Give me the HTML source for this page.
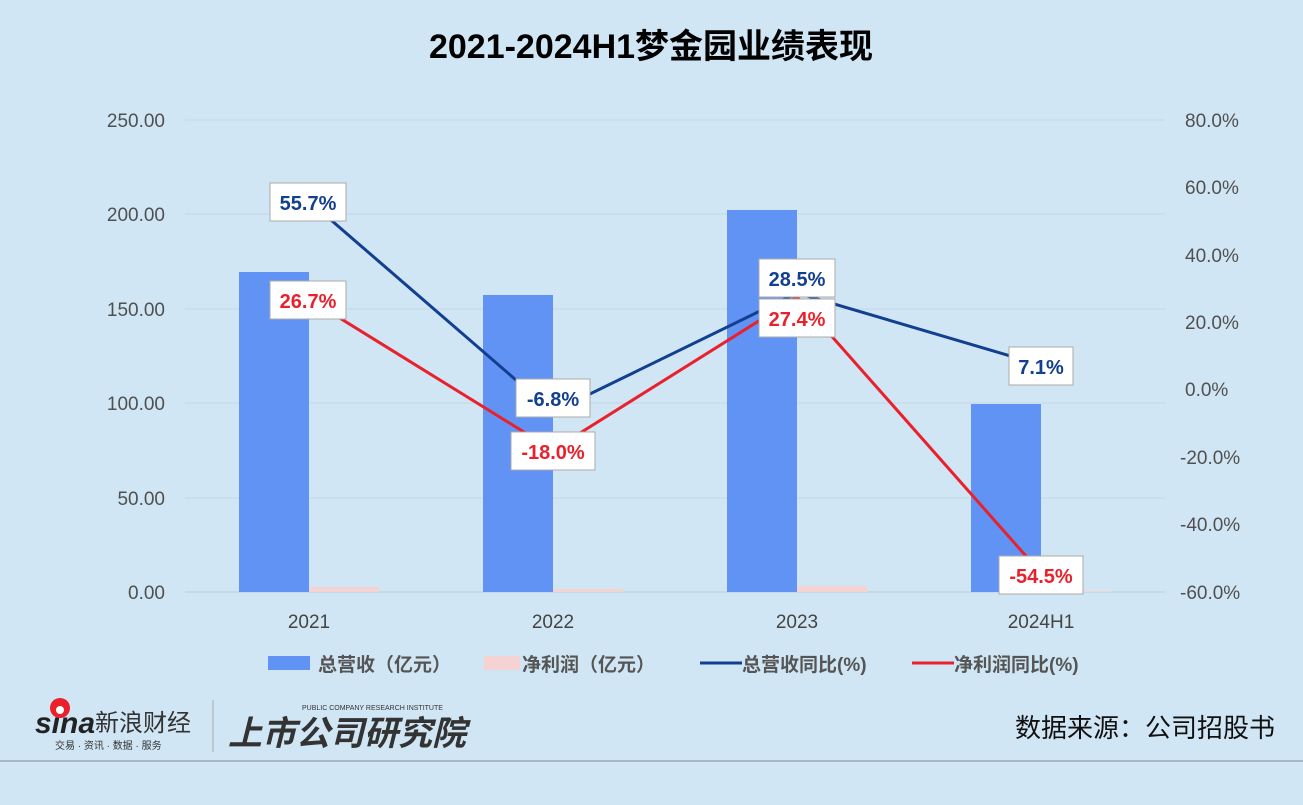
<!DOCTYPE html><html><head><meta charset="utf-8"><style>
body{margin:0;width:1303px;height:800px;background:#d1e6f4;overflow:hidden;font-family:"Liberation Sans","Noto Sans CJK SC",sans-serif}
</style></head><body>
<svg width="1303" height="800" xmlns="http://www.w3.org/2000/svg" font-family="Liberation Sans, Noto Sans CJK SC, sans-serif">
<rect width="1303" height="800" fill="#d1e6f4"/>
<text x="651" y="58" text-anchor="middle" font-size="34" font-weight="bold" fill="#000">2021-2024H1梦金园业绩表现</text>
<g stroke="#c4d6e3" stroke-width="1">
<line x1="185" y1="120" x2="1165" y2="120"/><line x1="185" y1="214" x2="1165" y2="214"/><line x1="185" y1="309" x2="1165" y2="309"/><line x1="185" y1="403" x2="1165" y2="403"/><line x1="185" y1="498" x2="1165" y2="498"/>
</g>
<line x1="185" y1="592" x2="1165" y2="592" stroke="#bfcbd4"/>
<g font-size="19" fill="#505050" text-anchor="end">
<text x="165" y="127">250.00</text><text x="165" y="221">200.00</text><text x="165" y="316">150.00</text><text x="165" y="410">100.00</text><text x="165" y="505">50.00</text><text x="165" y="599">0.00</text>
</g>
<g font-size="19" fill="#505050" text-anchor="start">
<text x="1185" y="127">80.0%</text><text x="1185" y="194">60.0%</text><text x="1185" y="262">40.0%</text><text x="1185" y="329">20.0%</text><text x="1185" y="396">0.0%</text><text x="1180" y="464">-20.0%</text><text x="1180" y="531">-40.0%</text><text x="1180" y="599">-60.0%</text>
</g>
<g fill="#6193f5">
<rect x="239" y="272" width="70" height="320"/><rect x="483" y="295" width="70" height="297"/><rect x="727" y="210" width="70" height="382"/><rect x="971" y="404" width="70" height="188"/>
</g>
<g fill="#f6d3d3">
<rect x="309" y="587" width="70" height="5"/><rect x="553" y="589" width="70" height="3"/><rect x="797" y="586" width="70" height="6"/><rect x="1041" y="591" width="70" height="1"/>
</g>
<g font-size="19" fill="#444" text-anchor="middle">
<text x="309" y="628">2021</text><text x="553" y="628">2022</text><text x="797" y="628">2023</text><text x="1041" y="628">2024H1</text>
</g>
<polyline points="309,201 553,412 797,293 1041,365" fill="none" stroke="#123f8f" stroke-width="3"/>
<polyline points="309,299 553,450 797,297 1041,573" fill="none" stroke="#e8212d" stroke-width="3"/>
<g font-size="20" font-weight="bold" text-anchor="middle">
<rect x="270" y="183" width="76" height="38" fill="#fff" stroke="#aaa"/><text x="308" y="210" fill="#123f8f">55.7%</text>
<rect x="270" y="281" width="76" height="38" fill="#fff" stroke="#aaa"/><text x="308" y="308" fill="#e8212d">26.7%</text>
<rect x="516" y="379" width="74" height="38" fill="#fff" stroke="#aaa"/><text x="553" y="406" fill="#123f8f">-6.8%</text>
<rect x="511" y="432" width="84" height="38" fill="#fff" stroke="#aaa"/><text x="553" y="459" fill="#e8212d">-18.0%</text>
<rect x="759" y="259" width="76" height="38" fill="#fff" stroke="#aaa"/><text x="797" y="286" fill="#123f8f">28.5%</text>
<rect x="759" y="299" width="76" height="38" fill="#fff" stroke="#aaa"/><text x="797" y="326" fill="#e8212d">27.4%</text>
<rect x="1009" y="347" width="64" height="38" fill="#fff" stroke="#aaa"/><text x="1041" y="374" fill="#123f8f">7.1%</text>
<rect x="999" y="556" width="84" height="38" fill="#fff" stroke="#aaa"/><text x="1041" y="583" fill="#e8212d">-54.5%</text>
</g>
<g font-size="19" font-weight="bold" fill="#555">
<rect x="268" y="656" width="42" height="14" fill="#6193f5"/><text x="318" y="671">总营收（亿元）</text>
<rect x="484" y="656" width="36" height="14" fill="#f6d3d3"/><text x="522" y="671">净利润（亿元）</text>
<line x1="700" y1="663" x2="742" y2="663" stroke="#123f8f" stroke-width="3"/><text x="742" y="671">总营收同比(%)</text>
<line x1="912" y1="663" x2="954" y2="663" stroke="#e8212d" stroke-width="3"/><text x="954" y="671">净利润同比(%)</text>
</g>
<text x="35" y="733" font-size="30" font-weight="bold" font-style="italic" fill="#222">sina</text>
<circle cx="60" cy="708" r="10" fill="#e8212d"/><circle cx="60" cy="710" r="4" fill="#fff"/>
<text x="95" y="731" font-size="24" fill="#333">新浪财经</text>
<text x="55" y="749" font-size="10" fill="#333">交易 · 资讯 · 数据 · 服务</text>
<line x1="213" y1="700" x2="213" y2="752" stroke="#aaa"/>
<text x="228" y="745" font-size="34" font-weight="bold" font-style="italic" fill="#333">上市公司研究院</text>
<text x="302" y="710" font-size="7" fill="#333">PUBLIC COMPANY RESEARCH INSTITUTE</text>
<line x1="0" y1="761" x2="1303" y2="761" stroke="#9aa8b3" stroke-width="1.5"/>
<text x="1275" y="737" font-size="26" fill="#111" text-anchor="end">数据来源：公司招股书</text>
</svg>
</body></html>
